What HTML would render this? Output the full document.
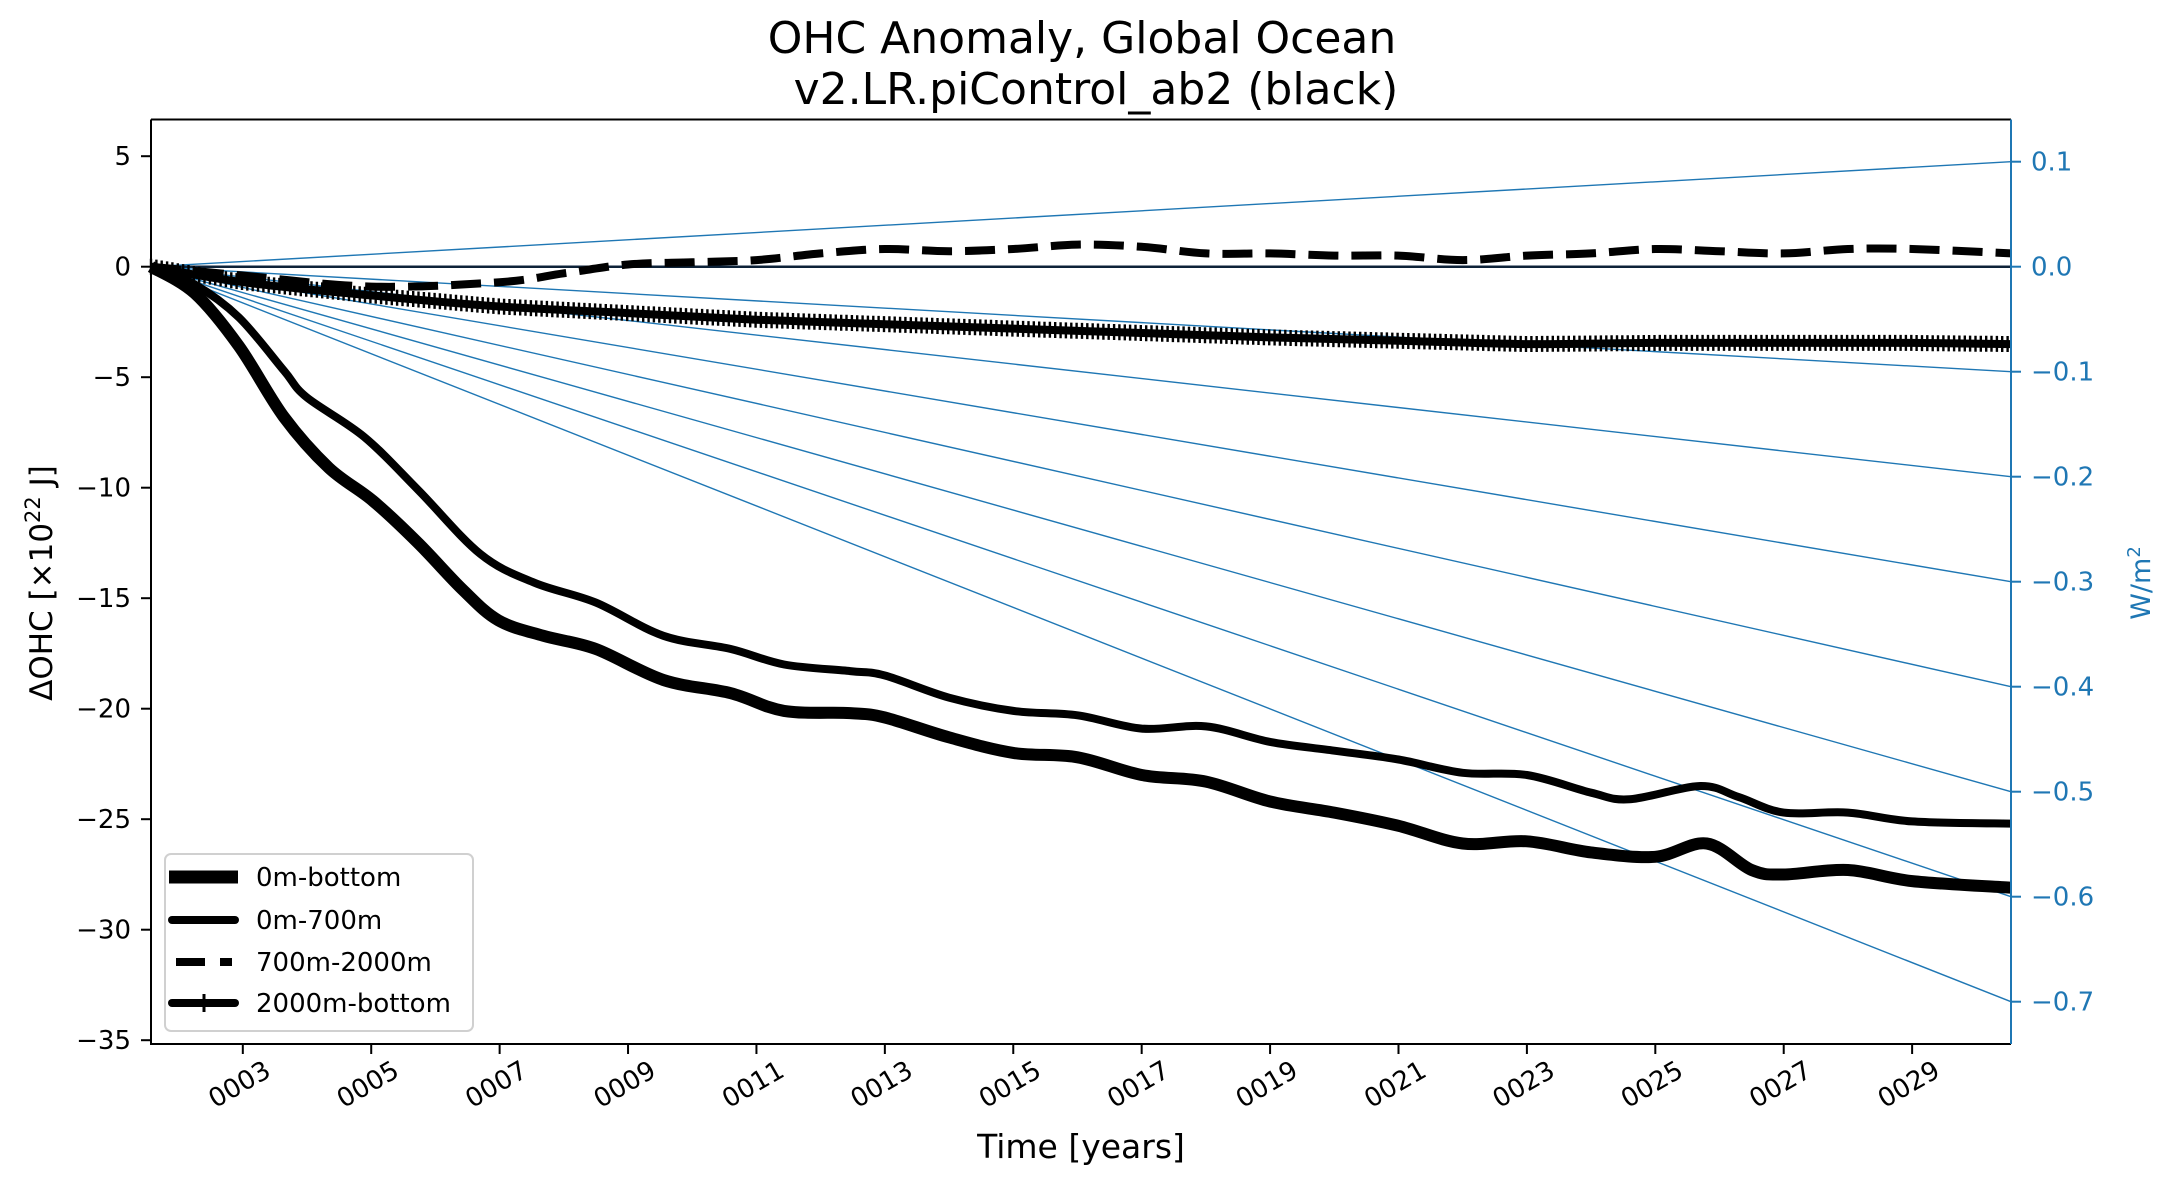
<!DOCTYPE html>
<html><head><meta charset="utf-8"><style>
html,body{margin:0;padding:0;background:#fff;}
svg text{font-family:"DejaVu Sans","Liberation Sans",sans-serif;}
</style></head><body>
<svg id="chart" width="2160" height="1187" viewBox="0 0 2160 1187" xmlns="http://www.w3.org/2000/svg">
<rect width="2160" height="1187" fill="#fff"/>
<text x="1082" y="53" font-size="44" text-anchor="middle">OHC Anomaly, Global Ocean</text>
<text x="1096" y="104" font-size="44" text-anchor="middle">v2.LR.piControl_ab2 (black)</text>
<g id="trend"></g>
<g id="series"></g>
<g id="axes"></g>
<text x="1081" y="1158" font-size="33" text-anchor="middle">Time [years]</text>
<text transform="translate(52,583) rotate(-90)" font-size="31" text-anchor="middle">ΔOHC [×10<tspan baseline-shift="super" font-size="21">22</tspan> J]</text>
<text transform="translate(2150,583) rotate(-90)" font-size="27" fill="#1f77b4" text-anchor="middle">W/m<tspan baseline-shift="super" font-size="18">2</tspan></text>
<g>
<rect x="165" y="854" width="308" height="177" rx="6" fill="#fff" fill-opacity="0.8" stroke="#d0d0d0" stroke-width="2"/>
<line x1="169" y1="877" x2="238" y2="877" stroke="#000" stroke-width="13"/>
<text x="256" y="886" font-size="26">0m-bottom</text>
<line x1="172" y1="920" x2="235" y2="920" stroke="#000" stroke-width="8" stroke-linecap="round"/>
<text x="256" y="929" font-size="26">0m-700m</text>
<path d="M176 962 H205 M220 962 H232" stroke="#000" stroke-width="8"/>
<text x="256" y="971" font-size="26">700m-2000m</text>
<path d="M172 1003 H235" stroke="#000" stroke-width="8" stroke-linecap="round"/>
<path d="M204 994 V1012" stroke="#000" stroke-width="3"/>
<text x="256" y="1012" font-size="26">2000m-bottom</text>
</g>
</svg>
<script>
// ---- data ----
const xTickYears = [3,5,7,9,11,13,15,17,19,21,23,25,27,29];
const xTickLabels = ["0003","0005","0007","0009","0011","0013","0015","0017","0019","0021","0023","0025","0027","0029"];
const yTicks = [5,0,-5,-10,-15,-20,-25,-30,-35];
const rightTicks = [0.1,0.0,-0.1,-0.2,-0.3,-0.4,-0.5,-0.6,-0.7];
const trendRates = [0.1,0.0,-0.1,-0.2,-0.3,-0.4,-0.5,-0.6,-0.7];
const fullYears = [1.57,2.25,2.94,3.64,4.34,5.03,5.73,6.42,6.98,7.68,8.5,9.55,10.6,11.43,12.46,13,14,15,16,17,18,19,20,21,22,23,24,25,25.8,26.5,27,28,29,30.54];
const fullVals = [0,-1.2,-3.6,-6.8,-9.1,-10.6,-12.5,-14.6,-16.0,-16.7,-17.3,-18.7,-19.3,-20.1,-20.2,-20.4,-21.3,-22.0,-22.2,-23.0,-23.3,-24.2,-24.7,-25.3,-26.1,-26.0,-26.5,-26.7,-26.1,-27.3,-27.5,-27.3,-27.8,-28.1];
const upperYears = [1.57,2.25,2.94,3.64,3.99,4.89,5.73,6.7,7.54,8.5,9.55,10.6,11.43,12.46,13,14,15,16,17,18,19,20,21,22,23,24,24.6,25.7,26.3,27,28,29,30.54];
const upperVals = [0,-0.8,-2.3,-4.7,-5.9,-7.7,-10.1,-13.0,-14.3,-15.2,-16.7,-17.3,-18.0,-18.3,-18.5,-19.5,-20.1,-20.3,-20.9,-20.8,-21.5,-21.9,-22.3,-22.9,-23.0,-23.8,-24.1,-23.5,-24.0,-24.7,-24.7,-25.1,-25.2];
const midYears = [1.57,3,5,7,8,9,10,11,12,13,14,15,16,17,18,19,20,21,22,23,24,25,26,27,28,29,30.54];
const midVals = [0,-0.4,-0.9,-0.7,-0.3,0.1,0.2,0.3,0.6,0.8,0.7,0.8,1.0,0.9,0.6,0.6,0.5,0.5,0.3,0.5,0.6,0.8,0.7,0.6,0.8,0.8,0.6];
const deepYears = [1.57,3,5,7,9,11,13,15,17,19,21,23,25,27,29,30.54];
const deepVals = [0,-0.7,-1.3,-1.8,-2.1,-2.4,-2.6,-2.8,-3.0,-3.2,-3.35,-3.5,-3.45,-3.45,-3.45,-3.5];

// ---- scales ----
const L=151,R=2011,T=119.5,B=1044;
const X0=1.57,X1=30.54;
const sx=v=>L+(v-X0)/(X1-X0)*(R-L);
const sy=v=>266.7-v*22.1;
const sr=v=>266.7-v*1050;
const NS='http://www.w3.org/2000/svg';
function mk(tag,attrs,parent){const e=document.createElementNS(NS,tag);for(const k in attrs)e.setAttribute(k,attrs[k]);parent.appendChild(e);return e;}
const gT=document.getElementById('trend'),gS=document.getElementById('series'),gA=document.getElementById('axes');

trendRates.forEach(r=>{
  const l=mk('line',{x1:sx(X0),y1:sr(0),x2:sx(X1),y2:sr(r),stroke:'#1f77b4','stroke-width':1.4},gT);
  
  
});
const zl=mk('line',{x1:L,y1:sy(0),x2:R,y2:sy(0),stroke:'#0d2238','stroke-width':2.5},gT);



function pathOf(xs,ys){
  const P=xs.map((x,i)=>[sx(x),sy(ys[i])]);
  let d='M'+P[0][0].toFixed(1)+' '+P[0][1].toFixed(1);
  for(let i=0;i<P.length-1;i++){
    const p0=P[Math.max(0,i-1)],p1=P[i],p2=P[i+1],p3=P[Math.min(P.length-1,i+2)];
    const c1=[p1[0]+(p2[0]-p0[0])/6,p1[1]+(p2[1]-p0[1])/6];
    const c2=[p2[0]-(p3[0]-p1[0])/6,p2[1]-(p3[1]-p1[1])/6];
    d+='C'+c1[0].toFixed(1)+' '+c1[1].toFixed(1)+' '+c2[0].toFixed(1)+' '+c2[1].toFixed(1)+' '+p2[0].toFixed(1)+' '+p2[1].toFixed(1);
  }
  return d;
}
const p1=mk('path',{d:pathOf(fullYears,fullVals),fill:'none',stroke:'#000','stroke-width':12,'stroke-linejoin':'round'},gS);


const p2=mk('path',{d:pathOf(upperYears,upperVals),fill:'none',stroke:'#000','stroke-width':8,'stroke-linejoin':'round'},gS);


const p3=mk('path',{d:pathOf(midYears,midVals),fill:'none',stroke:'#000','stroke-width':8,'stroke-dasharray':'30 13','stroke-linejoin':'round'},gS);


const p4=mk('path',{d:pathOf(deepYears,deepVals),fill:'none',stroke:'#000','stroke-width':8,'stroke-linejoin':'round'},gS);


function interp(xs,ys,x){for(let i=1;i<xs.length;i++){if(x<=xs[i]){const t=(x-xs[i-1])/(xs[i]-xs[i-1]);return ys[i-1]+t*(ys[i]-ys[i-1]);}}return ys[ys.length-1];}
let md='';
for(let x=X0;x<=X1;x+=1/12){const y=sy(interp(deepYears,deepVals,x));md+='M'+sx(x).toFixed(1)+' '+(y-8).toFixed(1)+'V'+(y+8).toFixed(1);}
const mkr=mk('path',{d:md,stroke:'#000','stroke-width':2.4,fill:'none'},gS);



const fr=mk('path',{d:`M${L} ${T}H${R}M${L} ${T}V${B}H${R}`,fill:'none',stroke:'#000','stroke-width':2},gA);


const rs=mk('line',{x1:R,y1:T,x2:R,y2:B,stroke:'#1f77b4','stroke-width':2},gA);


yTicks.forEach(v=>{
  mk('line',{x1:L-10,y1:sy(v),x2:L,y2:sy(v),stroke:'#000','stroke-width':2},gA);
  const t=mk('text',{x:L-20,y:sy(v)+9,'font-size':26,'text-anchor':'end'},gA);
  t.textContent=(v<0?'\u2212':'')+Math.abs(v);
  
  
});
rightTicks.forEach(v=>{
  mk('line',{x1:R,y1:sr(v),x2:R+10,y2:sr(v),stroke:'#1f77b4','stroke-width':2},gA);
  const t=mk('text',{x:R+20,y:sr(v)+9,'font-size':26,fill:'#1f77b4'},gA);
  t.textContent=(v<0?'\u2212':'')+Math.abs(v).toFixed(1);
  
  
});
xTickYears.forEach((v,i)=>{
  const x=sx(v);
  mk('line',{x1:x,y1:B,x2:x,y2:B+10,stroke:'#000','stroke-width':2},gA);
  const t=mk('text',{x:0,y:0,'font-size':26,'text-anchor':'middle','dominant-baseline':'central',transform:`translate(${(x-3).toFixed(1)},1085) rotate(-30)`},gA);
  t.textContent=xTickLabels[i];
  
  
});
</script>
</body></html>
